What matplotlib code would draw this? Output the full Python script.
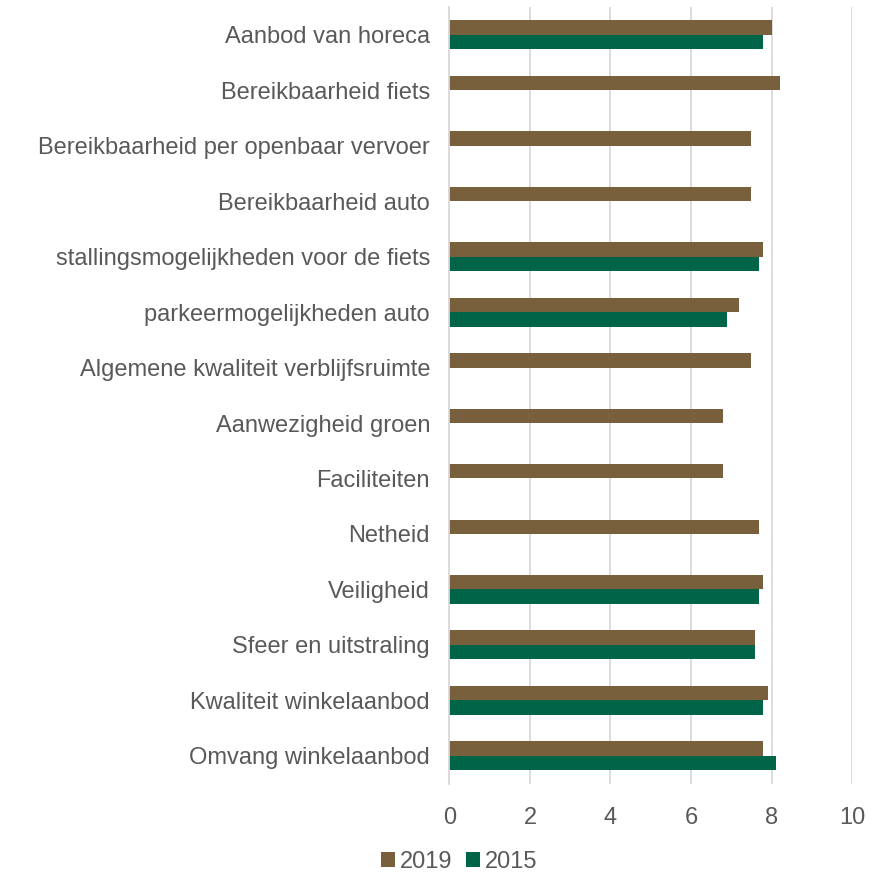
import numpy as np
import matplotlib.pyplot as plt

# colours
BROWN = "#79603d"
GREEN = "#006548"
GRID = "#d9d9d9"
TEXT = "#595959"

categories = [
    "Aanbod van horeca",
    "Bereikbaarheid fiets",
    "Bereikbaarheid per openbaar vervoer",
    "Bereikbaarheid auto",
    "stallingsmogelijkheden voor de fiets",
    "parkeermogelijkheden auto",
    "Algemene kwaliteit verblijfsruimte",
    "Aanwezigheid groen",
    "Faciliteiten",
    "Netheid",
    "Veiligheid",
    "Sfeer en uitstraling",
    "Kwaliteit winkelaanbod",
    "Omvang winkelaanbod",
]
scores_2019 = [8.0, 8.2, 7.5, 7.5, 7.8, 7.2, 7.5, 6.8, 6.8, 7.7, 7.8, 7.6, 7.9, 7.8]
scores_2015 = [7.8, np.nan, np.nan, np.nan, 7.7, 6.9, np.nan, np.nan, np.nan, np.nan,
               7.7, 7.6, 7.8, 8.1]
x_ticks = [0, 2, 4, 6, 8, 10]

plt.rcParams["font.family"] = ["Liberation Sans", "DejaVu Sans"]

fig = plt.figure(figsize=(8.95, 8.76), dpi=100)
ax = fig.add_axes([0.5022, 0.1055, 0.4498, 0.8865])

y = np.arange(len(categories))
h = 0.26
ax.barh(y - h / 2, scores_2019, height=h, color=BROWN, label="2019")
ax.barh(y + h / 2, scores_2015, height=h, color=GREEN, label="2015")

ax.set_ylim(len(categories) - 0.5, -0.5)
ax.set_xlim(0, 10)
ax.set_xticks(x_ticks)
ax.set_yticks(y)
ax.set_yticklabels(categories)

ax.grid(True, axis="x", color=GRID, linewidth=1.3)
ax.set_axisbelow(True)
for side in ["top", "right", "bottom"]:
    ax.spines[side].set_visible(False)
ax.spines["left"].set_color(GRID)
ax.spines["left"].set_linewidth(1.3)

ax.tick_params(axis="both", length=0, labelsize=17, labelcolor=TEXT)
ax.tick_params(axis="y", pad=14)
ax.tick_params(axis="x", pad=17)

fig.legend(loc="center", bbox_to_anchor=(0.513, 0.016), ncol=2, frameon=False,
           fontsize=17, labelcolor=TEXT, handlelength=0.6, handleheight=0.6,
           handletextpad=0.2, columnspacing=0.6)

fig.savefig("out.png", dpi=100)
